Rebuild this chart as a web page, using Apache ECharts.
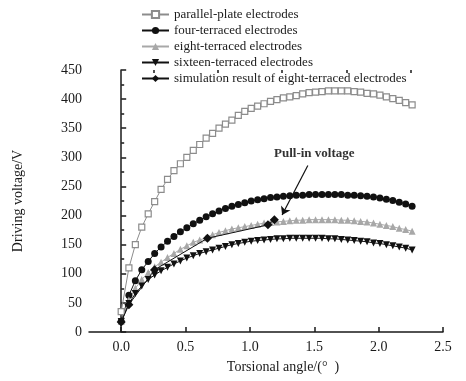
<!DOCTYPE html>
<html>
<head>
<meta charset="utf-8">
<script src="https://cdn.jsdelivr.net/npm/echarts@6/dist/echarts.min.js"></script>
<style>
  html, body { margin: 0; padding: 0; background: #fff; }
  #main { width: 466px; height: 381px; }
</style>
</head>
<body>
<div id="main"></div>
<script>
// torsional angle (deg) of each computed point
const angles = [0.00, 0.06, 0.11, 0.16, 0.21, 0.26, 0.31, 0.36, 0.41, 0.46,
  0.51, 0.56, 0.61, 0.66, 0.71, 0.76, 0.81, 0.86, 0.91, 0.96,
  1.01, 1.06, 1.11, 1.16, 1.21, 1.26, 1.31, 1.36, 1.41, 1.46,
  1.51, 1.56, 1.61, 1.66, 1.71, 1.76, 1.81, 1.86, 1.91, 1.96,
  2.01, 2.06, 2.11, 2.16, 2.21, 2.26]

const parallelPlate = [35, 110, 150, 180, 203, 224, 245, 262, 277, 289,
  300, 312, 322, 333, 341, 350, 357, 364, 372, 379,
  384, 388, 392, 396, 399, 402, 404, 406, 409, 411,
  412, 413, 414, 414, 414, 414, 413, 412, 410, 409,
  407, 404, 401, 398, 394, 390]

const fourTerraced = [18, 63, 88, 107, 121, 135, 146, 156, 164, 172,
  179, 186, 192, 198, 203, 208, 212, 216, 219, 222,
  225, 227, 229, 231, 232, 233, 234, 235, 235, 236,
  236, 236, 236, 236, 236, 235, 235, 234, 233, 232,
  230, 228, 226, 223, 220, 216]

const eightTerraced = [18, 55, 75, 90, 102, 112, 120, 128, 135, 142,
  148, 154, 158, 162, 167, 171, 174, 177, 179, 181,
  183, 185, 187, 188, 189, 190, 191, 192, 192, 193,
  193, 193, 193, 193, 192, 192, 191, 190, 189, 187,
  185, 183, 181, 178, 176, 173]

const sixteenTerraced = [18, 49, 66, 79, 90, 98, 105, 111, 117, 122,
  127, 131, 135, 138, 141, 144, 147, 150, 152, 154,
  156, 157, 158, 159, 160, 160, 161, 161, 161, 161,
  161, 161, 160, 160, 159, 158, 157, 156, 155, 153,
  152, 150, 148, 146, 144, 141]

const simAngles = [0.00, 0.06, 0.26, 0.67, 1.14, 1.19]
const simVoltage = [17, 47, 107, 161, 184, 193]

const xMajor = [0, 0.5, 1.0, 1.5, 2.0, 2.5]
const xMinor = [0.25, 0.75, 1.25, 1.75, 2.25]

const font = 'Liberation Serif'
const ink = '#1a1a1a'

const pairs = (xs, ys) => xs.map((x, i) => [x, ys[i]])

let chart = echarts.init(document.getElementById('main'))

const axisX = {
    type: 'value',
    min: -0.25,
    max: 2.5,
    splitLine: { show: false },
    axisLine: { onZero: false, lineStyle: { color: ink, width: 1.5 } }
}

let option = {
    animation: false,
    textStyle: { fontFamily: font },
    grid: { left: 89, right: 23, top: 70, bottom: 49 },
    legend: {
        orient: 'vertical',
        left: 136,
        top: 3,
        itemWidth: 27,
        itemHeight: 9,
        itemGap: 3,
        textStyle: { fontFamily: font, fontSize: 13, color: ink },
        data: ['parallel-plate electrodes', 'four-terraced electrodes', 'eight-terraced electrodes',
            'sixteen-terraced electrodes', 'simulation result of eight-terraced electrodes']
    },
    xAxis: [
        Object.assign({}, axisX, {
            name: 'Torsional angle/(°  )',
            nameLocation: 'middle',
            nameGap: 28,
            nameTextStyle: { fontFamily: font, fontSize: 14, color: ink, padding: [0, 0, 0, 34] },
            axisTick: { inside: true, length: 5, customValues: xMajor, lineStyle: { color: ink, width: 1.5 } },
            axisLabel: { customValues: xMajor, fontFamily: font, fontSize: 14, color: ink, margin: 8,
                formatter: v => v.toFixed(1) }
        }),
        Object.assign({}, axisX, {
            axisLine: { show: false, onZero: false },
            axisTick: { inside: true, length: 3, customValues: xMinor, lineStyle: { color: ink, width: 1.5 } },
            axisLabel: { show: false }
        })
    ],
    yAxis: {
        type: 'value',
        min: 0,
        max: 450,
        interval: 50,
        name: 'Driving voltage/V',
        nameLocation: 'middle',
        nameGap: 64,
        nameTextStyle: { fontFamily: font, fontSize: 14, color: ink },
        splitLine: { show: false },
        axisLine: { show: true, lineStyle: { color: ink, width: 1.5 } },
        axisTick: { inside: true, length: 5, lineStyle: { color: ink, width: 1.5 } },
        minorTick: { show: true, splitNumber: 2, length: 3, lineStyle: { color: ink, width: 1.5 } },
        axisLabel: { fontFamily: font, fontSize: 14, color: ink, margin: 7 }
    },
    series: [
        {
            name: 'parallel-plate electrodes',
            type: 'line',
            data: pairs(angles, parallelPlate),
            symbol: 'rect',
            symbolSize: 6,
            lineStyle: { color: '#8c8c8c', width: 1 },
            itemStyle: { color: '#ffffff', borderColor: '#8c8c8c', borderWidth: 1.2 }
        },
        {
            name: 'four-terraced electrodes',
            type: 'line',
            data: pairs(angles, fourTerraced),
            symbol: 'circle',
            symbolSize: 7,
            lineStyle: { color: '#111', width: 1 },
            itemStyle: { color: '#111' }
        },
        {
            name: 'eight-terraced electrodes',
            type: 'line',
            data: pairs(angles, eightTerraced),
            symbol: 'triangle',
            symbolSize: 7,
            lineStyle: { color: '#a8a8a8', width: 1 },
            itemStyle: { color: '#a8a8a8' }
        },
        {
            name: 'sixteen-terraced electrodes',
            type: 'line',
            data: pairs(angles, sixteenTerraced),
            symbol: 'triangle',
            symbolRotate: 180,
            symbolSize: 7,
            lineStyle: { color: '#111', width: 1 },
            itemStyle: { color: '#111' }
        },
        {
            name: 'simulation result of eight-terraced electrodes',
            type: 'line',
            data: pairs(simAngles, simVoltage),
            symbol: 'diamond',
            symbolSize: 9,
            z: 5,
            lineStyle: { color: '#111', width: 1 },
            itemStyle: { color: '#111' },
            markLine: {
                silent: true,
                symbol: ['none', 'arrow'],
                symbolSize: 8,
                label: { show: false },
                lineStyle: { color: '#111', width: 1.2, type: 'solid' },
                data: [[{ coord: [1.45, 286] }, { coord: [1.25, 201] }]]
            }
        }
    ]
}
chart.setOption(option)

// annotation text placed from data coordinates
const p = chart.convertToPixel({ gridIndex: 0 }, [1.50, 307])
chart.setOption({
    graphic: [{
        type: 'text',
        x: p[0],
        y: p[1],
        style: { text: 'Pull-in voltage', fontFamily: font, fontSize: 13, fontWeight: 'bold',
            fill: '#333', align: 'center', verticalAlign: 'middle' }
    }]
})
</script>
</body>
</html>
